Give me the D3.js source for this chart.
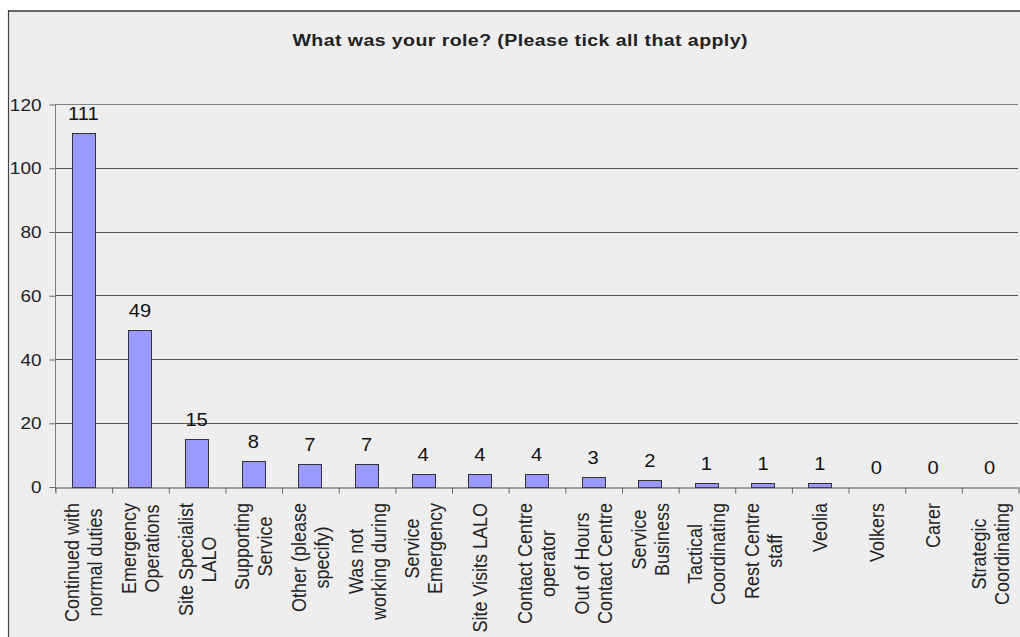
<!DOCTYPE html>
<html>
<head>
<meta charset="utf-8">
<script src="https://cdn.jsdelivr.net/npm/d3@7"></script>
<style>
  html, body { margin: 0; padding: 0; background: #ffffff; }
  svg { display: block; }
  text { font-family: "Liberation Sans", Arial, sans-serif; }
</style>
</head>
<body>
<svg id="chart" width="1020" height="637"></svg>
<script>
// Survey answers: one wrapped label (list of lines) per category
const categoryLines = [
  ["Continued with", "normal duties"],
  ["Emergency", "Operations"],
  ["Site Specialist", "LALO"],
  ["Supporting", "Service"],
  ["Other (please", "specify)"],
  ["Was not", "working during"],
  ["Service", "Emergency"],
  ["Site Visits LALO"],
  ["Contact Centre", "operator"],
  ["Out of Hours", "Contact Centre"],
  ["Service", "Business"],
  ["Tactical", "Coordinating"],
  ["Rest Centre", "staff"],
  ["Veolia"],
  ["Volkers"],
  ["Carer"],
  ["Strategic", "Coordinating"]
];
const counts = [111, 49, 15, 8, 7, 7, 4, 4, 4, 3, 2, 1, 1, 1, 0, 0, 0];
const yTickValues = [0, 20, 40, 60, 80, 100, 120];
const chartTitle = "What was your role? (Please tick all that apply)";

const W = 1020, H = 637;
const SX = 1.15;              // text is drawn slightly wide
const plot = { left: 55, right: 1018, top: 104, bottom: 486.5 };

const svg = d3.select("#chart");

// panel background and frame
svg.append("rect").attr("x", 8.5).attr("y", 10.5)
  .attr("width", W).attr("height", H).attr("fill", "#eeeeee");
svg.append("line").attr("x1", 8).attr("x2", W).attr("y1", 11).attr("y2", 11)
  .attr("stroke", "#666").attr("stroke-width", 2);
svg.append("line").attr("x1", 8.5).attr("x2", 8.5).attr("y1", 10).attr("y2", H)
  .attr("stroke", "#444").attr("stroke-width", 1.2);

// title
svg.append("text")
  .attr("transform", `translate(520,46) scale(${SX},1)`)
  .attr("text-anchor", "middle")
  .attr("font-weight", "bold")
  .attr("font-size", 17)
  .attr("fill", "#222")
  .attr("textLength", 455 / SX)
  .attr("lengthAdjust", "spacing")
  .text(chartTitle);

const idx = d3.range(categoryLines.length);
const x = d3.scaleBand().domain(idx).range([plot.left, plot.right])
  .paddingInner(0.59).paddingOuter(0.295);
const xEdge = d3.scaleLinear().domain([0, idx.length]).range([plot.left, plot.right]);
const y = d3.scaleLinear().domain([0, 120]).range([plot.bottom, plot.top]);

// horizontal gridlines
svg.append("g").selectAll("line")
  .data(yTickValues.filter(v => v > 0))
  .join("line")
  .attr("x1", plot.left).attr("x2", plot.right)
  .attr("y1", d => Math.round(y(d)) + 0.5).attr("y2", d => Math.round(y(d)) + 0.5)
  .attr("stroke", d => d === 120 ? "#808080" : "#555")
  .attr("stroke-width", 1);

// y axis
const yAxis = svg.append("g")
  .attr("transform", `translate(${plot.left + 0.5},0.5)`)
  .call(d3.axisLeft(y).tickValues(yTickValues).tickSize(6).tickSizeOuter(0).tickFormat(d3.format("d")));
yAxis.select(".domain").attr("stroke", "#808080").attr("d", `M0,${y(120)}V${plot.bottom + 5}`);
yAxis.selectAll(".tick line").attr("stroke", "#666");
yAxis.selectAll(".tick text")
  .attr("x", null).attr("dy", null)
  .attr("transform", `translate(-14,0) scale(${SX},1)`)
  .attr("dominant-baseline", "central")
  .attr("text-anchor", "end")
  .attr("font-size", 16.5)
  .attr("font-family", "Liberation Sans, Arial, sans-serif")
  .attr("fill", "#222");

// bars
svg.append("g").selectAll("rect")
  .data(idx.filter(i => counts[i] > 0))
  .join("rect")
  .attr("x", i => Math.round(x(i)) + 0.5)
  .attr("y", i => Math.round(y(counts[i])) + 0.5)
  .attr("width", Math.round(x.bandwidth()))
  .attr("height", i => Math.round(y(0)) - Math.round(y(counts[i])))
  .attr("fill", "#9999ff")
  .attr("stroke", "#333")
  .attr("stroke-width", 1);

// x axis with ticks between categories
const xAxis = svg.append("g")
  .attr("transform", `translate(0.5,${Math.round(plot.bottom) + 0.5})`)
  .call(d3.axisBottom(xEdge).tickValues(d3.range(idx.length + 1)).tickSize(6).tickSizeOuter(0).tickFormat(""));
xAxis.select(".domain").attr("stroke", "#555");
xAxis.selectAll(".tick line").attr("stroke", "#666");

// value labels above bars
svg.append("g").selectAll("text")
  .data(idx)
  .join("text")
  .attr("transform", i => `translate(${x(i) + x.bandwidth() / 2},${y(counts[i]) - 13}) scale(${SX},1)`)
  .attr("text-anchor", "middle")
  .attr("font-size", 17.5)
  .attr("fill", "#111")
  .text(i => counts[i]);

// rotated category labels, lines centred on each other, block hanging below the axis
const lineGap = 20;
const labelTop = 503;
const labels = svg.append("g").selectAll("g")
  .data(idx)
  .join("g")
  .attr("transform", i => `translate(${x(i) + x.bandwidth() / 2},${labelTop}) scale(${SX},1) rotate(-90)`);

labels.each(function (i) {
  const g = d3.select(this);
  const lines = categoryLines[i];
  const texts = g.selectAll("text").data(lines).join("text")
    .attr("font-size", 18)
    .attr("fill", "#222")
    .attr("text-anchor", "middle")
    .attr("dominant-baseline", "central")
    .attr("y", (d, k) => (k - (lines.length - 1) / 2) * lineGap)
    .text(d => d);
  let maxLen = 0;
  texts.each(function () { maxLen = Math.max(maxLen, this.getComputedTextLength()); });
  texts.attr("x", -maxLen / 2);
});
</script>
</body>
</html>
